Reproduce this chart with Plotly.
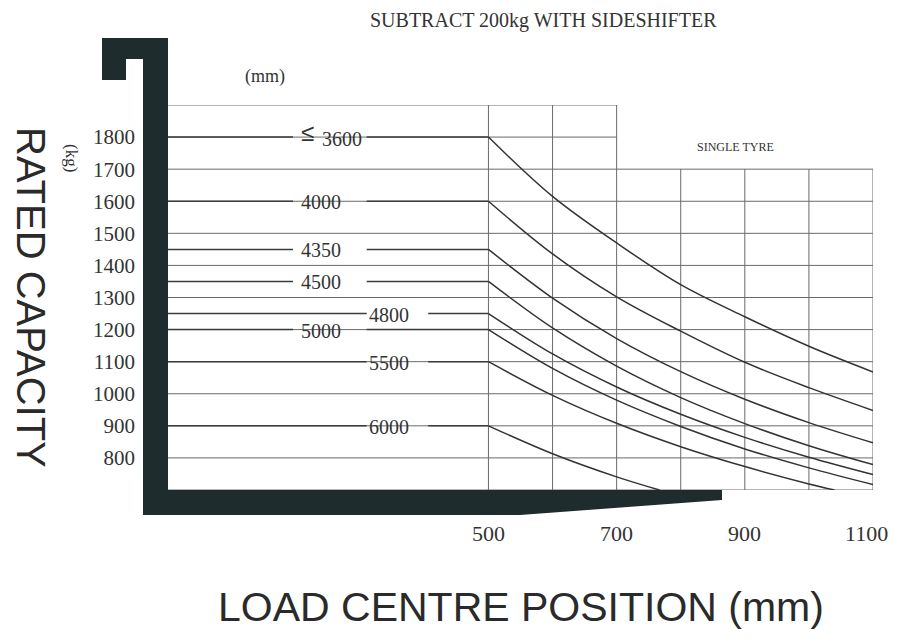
import plotly.graph_objects as go

# ---------------- data ----------------
X_STD = [500, 600, 700, 800, 900, 1000, 1100]

MAST_LABELS = ["≤ 3600", "4000", "4350", "4500", "4800", "5000", "5500", "6000"]
BASE_CAPACITY = [1800, 1600, 1450, 1350, 1250, 1200, 1100, 900]

CAP_3600 = [1800, 1615, 1470, 1340, 1240, 1148, 1068]
CAP_4000 = [1600, 1436, 1302, 1195, 1098, 1019, 948]
CAP_4350 = [1450, 1298, 1172, 1069, 983, 910, 847]
CAP_4500 = [1350, 1205, 1086, 988, 907, 838, 779]
CAP_4800 = [1250, 1124, 1021, 936, 864, 802, 748]
CAP_5000 = [1200, 1079, 980, 898, 828, 769, 717]
X_5500 = [500, 600, 700, 800, 900, 1000, 1040]
CAP_5500 = [1100, 995, 908, 835, 773, 719, 700]
X_6000 = [500, 600, 700, 767]
CAP_6000 = [900, 813, 741, 700]

Y_TICKS = [800, 900, 1000, 1100, 1200, 1300, 1400, 1500, 1600, 1700, 1800]
X_TICKS = [500, 700, 900, 1100]

GRID_Y_FULL = [700, 800, 900, 1000, 1100, 1200, 1300, 1400, 1500, 1600, 1700]
GRID_Y_SHORT = [1800, 1900]
GRID_X_TALL = [500, 600, 700]
GRID_X_SHORT = [800, 900, 1000, 1100]

CURVES = [
    (X_STD, CAP_3600), (X_STD, CAP_4000), (X_STD, CAP_4350), (X_STD, CAP_4500),
    (X_STD, CAP_4800), (X_STD, CAP_5000), (X_5500, CAP_5500), (X_6000, CAP_6000),
]

# ---------------- layout config ----------------
OFF = 8                      # html body margin
SW, SH = 899, 641            # browser window
W, H = SW - 2 * OFF, SH - 2 * OFF   # figure fits exactly inside the page
# plot area in screen pixels
P_LEFT, P_RIGHT, P_TOP, P_BOTTOM = 168, 873, 105, 490
ML, MT = P_LEFT - OFF, P_TOP - OFF
MR, MB = W - (P_RIGHT - OFF), H - (P_BOTTOM - OFF)
PW, PH = P_RIGHT - P_LEFT, P_BOTTOM - P_TOP

GAP = {"L": (195, 310, 239), "R": (310, 406, 345)}  # line gap (mm) and label centre
LABEL_COL = ["L", "L", "L", "L", "R", "L", "R", "R"]

LINE_C = "#333333"
GRID_C = "#6a6a6a"
BAR_C = "#1f2c2e"
SERIF = "Liberation Serif, Times New Roman, serif"
SANS = "Liberation Sans, Arial, sans-serif"


def paper(px, py):
    """screen pixel -> paper coords"""
    return (px - P_LEFT) / PW, (P_BOTTOM - py) / PH


fig = go.Figure()

for xs, ys in CURVES:
    fig.add_trace(go.Scatter(x=xs, y=ys, mode="lines",
                             line=dict(color=LINE_C, width=1.5, shape="spline", smoothing=1.0),
                             hoverinfo="skip", showlegend=False))

for lab, cap, col in zip(MAST_LABELS, BASE_CAPACITY, LABEL_COL):
    g0, g1, gc = GAP[col]
    fig.add_trace(go.Scatter(x=[0, g0, None, g1, 500], y=[cap, cap, None, cap, cap],
                             mode="lines", line=dict(color="#3c3c3c", width=1.5),
                             hoverinfo="skip", showlegend=False))
    if lab.startswith("≤"):
        fig.add_annotation(x=217, y=cap, xref="x", yref="y", text="≤", showarrow=False,
                           font=dict(family=SANS, size=24, color="#333"), yshift=5)
        fig.add_annotation(x=271, y=cap, xref="x", yref="y", text=lab.replace("≤", "").strip(),
                           showarrow=False, font=dict(family=SERIF, size=20, color="#333"), yshift=-2)
    else:
        fig.add_annotation(x=gc, y=cap, xref="x", yref="y", text=lab, showarrow=False,
                           font=dict(family=SERIF, size=20, color="#333"), yshift=-1)

# x tick labels placed on the x scale (last one kept inside the page edge)
for i, xv in enumerate(X_TICKS):
    last = i == len(X_TICKS) - 1
    fig.add_annotation(x=xv, y=0, xref="x", yref="paper", text=str(xv), showarrow=False,
                       xanchor="right" if last else "center", yanchor="middle",
                       xshift=17 if last else 0, yshift=-43,
                       font=dict(family=SERIF, size=22, color="#333"))

shapes = []
for gy in GRID_Y_FULL:
    shapes.append(dict(type="line", xref="x", yref="y", x0=0, x1=1100, y0=gy, y1=gy,
                       line=dict(color=GRID_C, width=1), layer="below"))
for gy in GRID_Y_SHORT:
    shapes.append(dict(type="line", xref="x", yref="y", x0=0, x1=700, y0=gy, y1=gy,
                       line=dict(color=GRID_C, width=1), layer="below"))
for gx in GRID_X_TALL:
    shapes.append(dict(type="line", xref="x", yref="y", x0=gx, x1=gx, y0=700, y1=1900,
                       line=dict(color=GRID_C, width=1), layer="below"))
for gx in GRID_X_SHORT:
    shapes.append(dict(type="line", xref="x", yref="y", x0=gx, x1=gx, y0=700, y1=1700,
                       line=dict(color=GRID_C, width=1), layer="below"))

bracket_px = [(102, 38), (168, 38), (168, 490), (722, 490), (722, 500), (520, 515),
              (143, 515), (143, 59), (126, 59), (126, 80), (102, 80)]
pts = [paper(a, b) for a, b in bracket_px]
path = "M " + " L ".join(f"{a:.5f},{b:.5f}" for a, b in pts) + " Z"
shapes.append(dict(type="path", xref="paper", yref="paper", path=path,
                   fillcolor=BAR_C, line=dict(color=BAR_C, width=0), layer="above"))

fig.update_layout(shapes=shapes)


def ann(px, py, text, size, family, angle=0, color="#333"):
    x, y = paper(px, py)
    fig.add_annotation(x=x, y=y, xref="paper", yref="paper", text=text, showarrow=False,
                       textangle=angle, font=dict(family=family, size=size, color=color),
                       xanchor="center", yanchor="middle")


ann(543, 20, "SUBTRACT 200kg WITH SIDESHIFTER", 20, SERIF)
ann(265, 77, "(mm)", 18, SERIF)
ann(735, 147, "SINGLE TYRE", 12, SERIF)
ann(72, 158, "(kg)", 17, SERIF, angle=90)
ann(31, 297, "RATED CAPACITY", 40, SANS, angle=90, color="#2a2a2a")
ann(521, 607, "LOAD CENTRE POSITION (mm)", 41, SANS, color="#2a2a2a")

fig.update_layout(
    width=W, height=H, autosize=False,
    margin=dict(l=ML, r=MR, t=MT, b=MB, pad=0),
    paper_bgcolor="white", plot_bgcolor="white",
    xaxis=dict(range=[0, 1100], showgrid=False, zeroline=False, showline=False,
               showticklabels=False, ticks="", fixedrange=True),
    yaxis=dict(range=[700, 1900], showgrid=False, zeroline=False, showline=False,
               tickvals=Y_TICKS, ticktext=[str(v) for v in Y_TICKS], ticks="",
               ticklabelstandoff=32, tickfont=dict(family=SERIF, size=21, color="#333"),
               fixedrange=True),
    showlegend=False,
)

fig.write_html("out.html", config={"displayModeBar": False})
